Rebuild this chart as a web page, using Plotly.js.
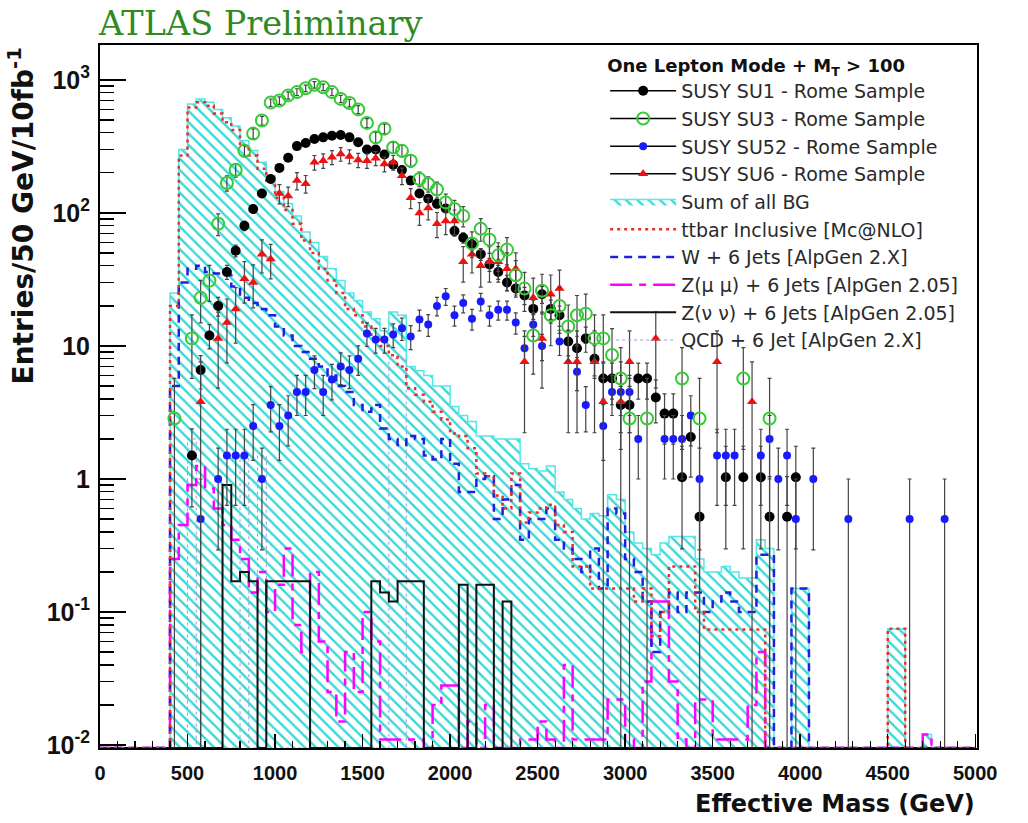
<!DOCTYPE html>
<html><head><meta charset="utf-8">
<script src="https://cdn.plot.ly/plotly-3.0.1.min.js"></script>
<style>html,body{margin:0;padding:0;background:#fff}#chart{width:1028px;height:823px}</style>
</head><body><div id="chart"></div>
<script>
const _ = null;
const BIN_WIDTH = 50;   // GeV
const N_BINS = 100;     // 0 .. 5000 GeV

// ---- Background histograms (entries / 50 GeV / 10 fb^-1) ----
const sumAllBG = [
  0,0,0,0,0,0,0,0,25,300,
  660,720,680,600,520,450,350,295,240,190,
  145,118,95,72,60,47,38,31,25,22,
  18,16,13,18,17,7,6.5,6,5,5,
  3.5,3.0,2.7,2.1,2.1,2.0,2.0,2.0,1.3,1.2,
  1.15,1.25,0.8,0.7,0.6,0.5,0.55,0.53,0.76,0.7,
  0.4,0.33,0.3,0.27,0.33,0.37,0.37,0.37,0.25,0.2,
  0.2,0.22,0.2,0.18,0.18,0.35,0.3,0,0,0.15,
  0.15,0,0,0,0,0,0,0,0,0,
  0.075,0.075,0,0,0.012,0,0,0,0,0
];
const ttbar = [
  0,0,0,0,0,0,0,0,20,270,
  620,680,640,560,480,420,320,270,215,170,
  130,105,83,62,50,38,31,25,19,17,
  14,11.5,10,8.5,7,4.8,4.3,3.8,3.2,2.8,
  2.2,2.1,1.7,1.1,1.05,0.75,0.6,1.1,0.47,0.56,
  0.6,0.64,0.45,0.4,0.22,0.22,0.15,0.15,0.15,0.15,
  0.15,0.12,0.15,0.066,0.1,0.22,0.22,0.22,0.1,0.074,
  0.074,0.074,0.074,0.074,0.074,0.074,0,0,0,0,
  0,0,0,0,0,0,0,0,0,0,
  0.075,0.075,0,0,0,0,0,0,0,0
];
const wJets = [
  0,0,0,0,0,0,0,0,5,30,
  38,40,36,35,34,28,23,21,19,17,
  14,12,10,9,8,7,6,5,4.5,3.6,
  3.2,3.6,2.4,2.0,1.8,2.1,2.0,1.5,1.4,2.0,
  1.3,0.8,0.8,1.0,1.05,0.5,0.7,0.9,0.35,0.5,
  0.5,0.6,0.35,0.3,0.25,0.2,0.3,0.15,0.6,0.55,
  0.25,0.2,0.12,0.05,0.1,0.14,0.1,0.14,0.14,0.1,
  0.12,0.14,0.12,0.1,0.1,0.27,0.27,0,0,0.15,
  0.15,0,0,0,0,0,0,0,0,0,
  0,0,0,0,0,0,0,0,0,0
];
const zMuMu = [
  0,0,0,0,0,0,0,0,0.25,0.45,
  0.9,1.25,0.85,0.6,0.45,0.35,0.25,0.14,0.2,0.1,
  0.16,0.3,0.08,0.05,0.2,0.06,0.025,0.015,0.05,0.025,
  0.1,0.06,0.011,0.011,0.011,0.011,0.011,0,0.02,0.028,
  0.028,0,0.015,0,0.02,0,0,0,0.011,0.011,
  0.015,0.011,0,0.04,0.011,0.011,0.011,0.011,0.022,0.022,
  0.011,0,0.03,0.12,0.12,0.03,0.011,0,0.022,0.022,
  0.011,0.011,0.011,0.011,0.02,0.05,0,0,0,0,
  0,0,0,0,0,0,0,0,0,0,
  0,0,0,0,0.012,0,0,0,0,0
];
const zNuNu = [
  0,0,0,0,0,0,0,0,0,0,
  0,0,0,0,0.9,0.17,0.2,0.17,0,0.17,
  0.17,0.17,0.17,0.17,0,0,0,0,0,0,
  0,0.17,0.14,0.12,0.17,0.17,0.17,0,0,0,
  0,0.16,0,0.16,0.16,0,0.12,0,0,0,
  0,0,0,0,0,0,0,0,0,0,
  0,0,0,0,0,0,0,0,0,0,
  0,0,0,0,0,0,0,0,0,0,
  0,0,0,0,0,0,0,0,0,0,
  0,0,0,0,0,0,0,0,0,0
];
const qcd = [
  0,0,0,0,0,0,0,0,0,0,
  2,0,0,0,0,0,1.5,0,1.5,0,
  0,0,0,0,0,0,0,0,0,0,
  0,0,0,8,8,0,0,0,0,0,
  0,0,0,0,0,0,0,0,0,0,
  0,0,0,0,0,0,0,0,0,0,
  0,0,0,0,0,0,0,0,0,0,
  0,0,0,0,0,0,0,0,0,0,
  0,0,0,0,0,0,0,0,0,0,
  0,0,0,0,0,0,0,0,0,0
];

// ---- SUSY signal points (null = empty bin) ----
const su1 = [
  _,_,_,_,_,_,_,_,_,_,
  1.5,6.6,12,20,36,52,80,107,140,180,
  218,260,318,336,360,370,380,385,370,340,
  300,300,275,230,210,175,140,128,117,108,
  73,65,58,49,41,36,30,27,24,19,
  24.5,19,17,10.8,9.6,11.4,8,5.7,5.7,3.6,
  3.6,5.7,5.7,4.1,3.1,3.1,1.03,2.07,0.52,_,
  _,1.03,_,1.03,_,1.03,0.52,_,0.52,1.03,
  _,_,_,_,_,_,_,_,_,_,
  _,_,_,_,_,_,_,_,_,_
];
const su3 = [
  _,_,_,_,_,_,_,_,2.85,_,
  11.4,23,31,83,168,210,293,395,495,675,
  700,765,810,865,920,880,810,720,670,600,
  475,370,430,310,293,247,180,165,150,120,
  107,95,59,76,63,48,53,34,27,12,
  26,17,20,14,17,17.5,11.4,11.4,8.55,5.7,
  2.85,_,2.85,_,_,_,5.7,_,2.85,_,
  _,_,_,5.7,_,_,2.85,_,_,_,
  _,_,_,_,_,_,_,_,_,_,
  _,_,_,_,_,_,_,_,_,_
];
const su52 = [
  _,_,_,_,_,_,_,_,_,_,
  _,0.5,_,1.0,1.5,1.5,1.5,2.5,1.0,3.6,
  2.5,3.0,4.5,4.5,6.6,4.5,5.6,7.0,6.6,8.0,
  12.4,11.2,11.2,12.2,13.6,11.8,15.8,14.5,20,23.6,
  17,21,16,21.6,17,18.7,18.7,15,9.6,14.5,
  10,_,10.8,_,6.4,3.6,_,2.5,4.5,4.5,
  4.5,2,_,_,2,2,2,3,1.0,_,
  1.5,1.5,1.5,_,_,1.5,2,1.0,1.5,0.5,
  _,1.0,_,_,_,0.5,_,_,_,_,
  _,_,0.5,_,_,_,0.5,_,_,_
];
const su6 = [
  _,_,_,_,_,_,_,_,_,_,
  _,3.8,_,11.4,15,19,32,30,49,45,
  140,134,175,166,240,247,262,277,266,250,
  247,258,233,240,190,130,100,109,83,87,
  87,43,49,40,43,43,38,38,7.6,23,
  11.4,24.5,27,7.6,7.6,_,7.6,3.8,_,3.8,
  7.6,_,_,11.4,_,_,_,_,_,_,
  7.6,_,_,_,3.8,_,_,_,_,_,
  _,_,_,_,_,_,_,_,_,_,
  _,_,_,_,_,_,_,_,_,_
];
// per-event weights of the signal samples (for statistical error bars)
const su1Weight = 0.52, su3Weight = 2.85, su52Weight = 0.5, su6Weight = 3.8;

const legendTitle = '<b>One Lepton Mode + M<sub>T</sub> > 100</b>';
const yTickVals = [0.01, 0.1, 1, 10, 100, 1000];
const yTickText = ['10<sup>-2</sup>', '10<sup>-1</sup>', '1', '10', '10<sup>2</sup>', '10<sup>3</sup>'];
const Y_MIN = 0.0095, Y_MAX = 1830;

// ---------------------------------------------------------------
const edges = Array.from({length: N_BINS + 1}, (v, i) => i * BIN_WIDTH);
const centers = Array.from({length: N_BINS}, (v, i) => (i + 0.5) * BIN_WIDTH);
const FLOOR = Y_MIN; // empty bins are drawn along the bottom of the log frame, like ROOT

function stepTrace(vals, name, line, rank, extra) {
  const y = vals.map(v => v > 0 ? v : FLOOR);
  y.push(y[y.length - 1]);
  return Object.assign({
    type: 'scatter', mode: 'lines', x: edges, y: y, name: name,
    line: Object.assign({shape: 'hv'}, line), hoverinfo: 'skip', legendrank: rank
  }, extra || {});
}
function pointTrace(vals, w, name, marker, rank) {
  const x = [], y = [], e = [];
  vals.forEach((v, i) => {
    if (v != null) { x.push(centers[i], null); y.push(v, null); e.push(Math.sqrt(v * w), null); }
  });
  return {
    type: 'scatter', mode: 'lines+markers', x: x, y: y, name: name, connectgaps: false,
    line: {color: 'black', width: 1.5}, marker: marker, cliponaxis: true,
    error_y: {type: 'data', array: e, visible: true, color: '#444', thickness: 1.2, width: 2},
    legendrank: rank, hoverinfo: 'x+y'
  };
}

const traces = [
  stepTrace(sumAllBG, 'Sum of all BG', {color: '#55e6e6', width: 1.5}, 5, {
    fill: 'tozeroy', fillcolor: 'rgba(0,0,0,0)',
    fillpattern: {shape: '\\', fgcolor: '#38d8d8', bgcolor: 'rgba(0,0,0,0)', size: 8, solidity: 0.3}
  }),
  stepTrace(qcd, 'QCD + 6 Jet [AlpGen 2.X]', {color: '#9a9ad8', width: 1, dash: 'dot'}, 10),
  stepTrace(zMuMu, 'Z(\u03bc \u03bc) + 6 Jets [AlpGen 2.05]', {color: '#ff00ff', width: 2.5, dash: '22px,7px,7px,7px'}, 8),
  stepTrace(zNuNu, 'Z(\u03bd \u03bd) + 6 Jets [AlpGen 2.05]', {color: '#111111', width: 2}, 9),
  stepTrace(wJets, 'W + 6 Jets [AlpGen 2.X]', {color: '#1f1fe0', width: 2.5, dash: '8px,6px'}, 7),
  stepTrace(ttbar, 'ttbar Inclusive [Mc@NLO]', {color: '#e8302a', width: 2.5, dash: '3px,4px'}, 6),
  pointTrace(su1, su1Weight, 'SUSY SU1 - Rome Sample', {symbol: 'circle', size: 10, color: 'black'}, 1),
  pointTrace(su52, su52Weight, 'SUSY SU52 - Rome Sample', {symbol: 'circle', size: 8, color: '#1a1aff'}, 3),
  pointTrace(su6, su6Weight, 'SUSY SU6 - Rome Sample', {symbol: 'triangle-up', size: 9, color: '#ee1111'}, 4),
  pointTrace(su3, su3Weight, 'SUSY SU3 - Rome Sample', {symbol: 'circle-open', size: 12, color: '#33cc33', line: {width: 2, color: '#33cc33'}}, 2)
];

const yMinor = [];
for (let d = -3; d <= 3; d++) for (let k = 2; k <= 9; k++) yMinor.push(k * Math.pow(10, d));

const SANS = 'Liberation Sans, Arial, sans-serif';
const WIDE = 'DejaVu Sans, Verdana, sans-serif';

const layout = {
  width: 1028, height: 823,
  margin: {l: 100, r: 51, t: 45, b: 75},
  paper_bgcolor: 'white', plot_bgcolor: 'white',
  title: {text: 'ATLAS Preliminary', xref: 'container', x: 99 / 1028, xanchor: 'left',
          yref: 'container', y: 1 - 23 / 823, yanchor: 'middle',
          font: {family: 'DejaVu Serif', size: 33.5, color: '#2f8a1f'}},
  xaxis: {
    range: [0, 5010], showline: true, mirror: true, linecolor: 'black', linewidth: 2,
    showgrid: false, zeroline: false, ticks: 'inside', ticklen: 14, tickwidth: 1.5, tickcolor: 'black',
    tick0: 0, dtick: 500, ticklabelstandoff: 6,
    minor: {dtick: 100, ticks: 'inside', ticklen: 7, tickwidth: 1.2, tickcolor: 'black'},
    tickfont: {family: SANS, size: 20, color: '#111', weight: 'bold'}
  },
  yaxis: {
    type: 'log', range: [Math.log10(Y_MIN), Math.log10(Y_MAX)],
    showline: true, mirror: true, linecolor: 'black', linewidth: 2,
    showgrid: false, zeroline: false, ticks: 'inside', ticklen: 26, tickwidth: 1.5, tickcolor: 'black',
    tickmode: 'array', tickvals: yTickVals, ticktext: yTickText, ticklabelstandoff: 3,
    minor: {tickvals: yMinor, ticks: 'inside', ticklen: 14, tickwidth: 1.2, tickcolor: 'black'},
    tickfont: {family: SANS, size: 25, color: '#111', weight: 'bold'}
  },
  legend: {
    x: 0.576, y: 0.995, xanchor: 'left', yanchor: 'top', bgcolor: 'rgba(0,0,0,0)', borderwidth: 0,
    traceorder: 'normal', itemwidth: 66,
    font: {family: WIDE, size: 19, color: '#2a2a2a'},
    title: {text: legendTitle, font: {family: WIDE, size: 18, color: '#111'}}
  },
  annotations: [
    {text: '<b>Entries/50 GeV/10fb<sup>-1</sup></b>', textangle: -90, showarrow: false,
     xref: 'paper', yref: 'paper', x: -0.089, y: 1.0, xanchor: 'center', yanchor: 'top',
     font: {family: WIDE, size: 28, color: '#111'}},
    {text: '<b>Effective Mass (GeV)</b>', showarrow: false,
     xref: 'paper', yref: 'paper', x: 1.0, y: -0.08, xanchor: 'right', yanchor: 'middle',
     font: {family: WIDE, size: 24, color: '#111'}}
  ],
  showlegend: true
};

Plotly.newPlot('chart', traces, layout, {displayModeBar: false, staticPlot: true});
</script>
</body></html>
